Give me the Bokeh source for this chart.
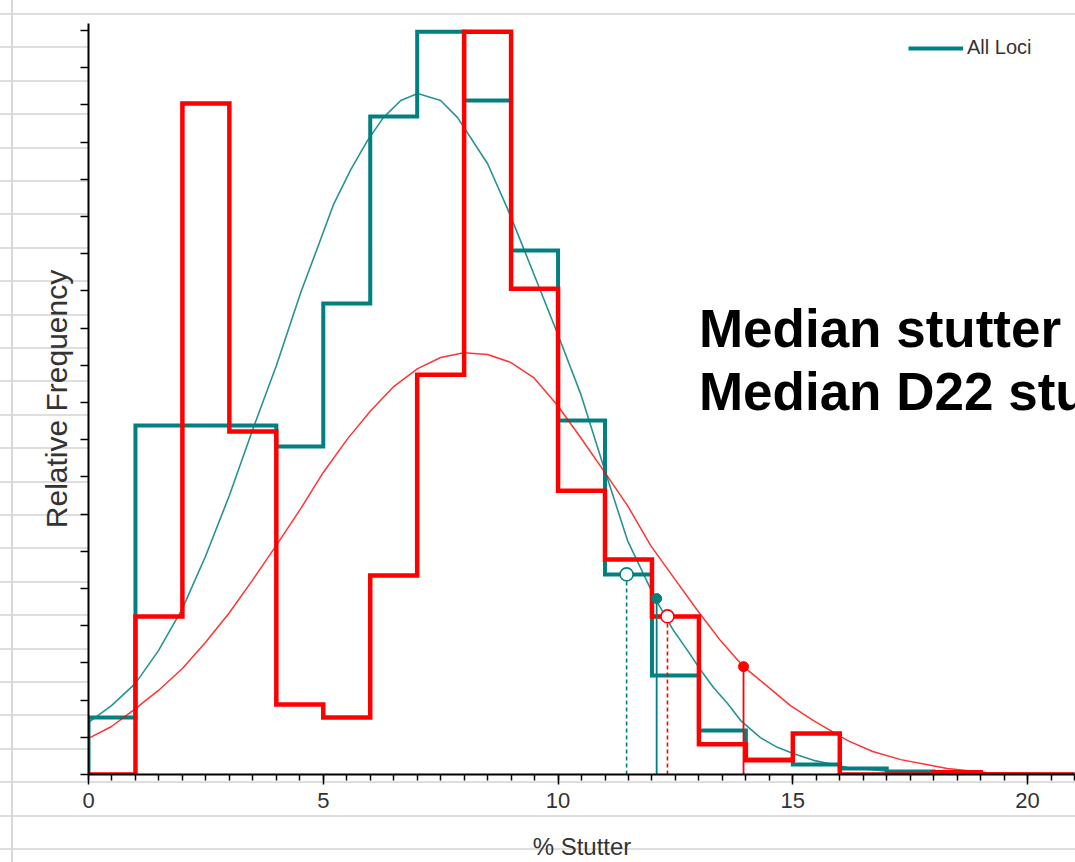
from bokeh.plotting import figure
from bokeh.models import Range1d, FixedTicker, Legend, LegendItem, Label
from bokeh.embed import file_html
from bokeh.resources import INLINE

# ---------------- data ----------------
bin_edges = list(range(0, 22))  # 0..21 (% stutter bins of width 1)
all_loci_freq = [1.53, 9.38, 9.38, 9.38, 8.82, 12.66, 17.69, 19.97, 18.12, 14.09,
                 9.52, 5.38, 2.66, 1.18, 0.40, 0.27, 0.16, 0.08, 0.0, 0.0, 0.0]
d22_freq = [0.0, 4.25, 18.04, 9.22, 1.88, 1.53, 5.35, 10.75, 19.97, 13.06,
            7.63, 5.78, 4.25, 0.81, 0.38, 1.10, 0.0, 0.0, 0.06, 0.0, 0.0]

all_loci_fit_x = [0.0, 0.49, 1.0, 1.49, 2.0, 2.49, 3.0, 3.49, 4.0, 4.52, 4.88, 5.22,
                  5.58, 5.94, 6.28, 6.65, 7.01, 7.5, 7.86, 8.5, 8.92, 9.14, 9.48, 9.99,
                  10.48, 10.97, 11.48, 12.07, 12.46, 12.76, 13.04, 13.31, 13.61, 13.89,
                  14.31, 14.67, 15.02, 15.44, 16.17, 17.08, 18.36, 21.0]
all_loci_fit_y = [1.40, 1.85, 2.45, 3.33, 4.46, 5.86, 7.50, 9.25, 10.99, 12.96, 14.17, 15.33,
                  16.25, 17.04, 17.66, 18.12, 18.31, 18.12, 17.66, 16.42, 15.22, 14.54, 13.47, 11.85,
                  10.24, 8.28, 6.29, 4.73, 3.87, 3.33, 2.80, 2.34, 1.91, 1.45,
                  0.99, 0.73, 0.56, 0.38, 0.19, 0.08, 0.03, 0.0]

d22_fit_x = [0.0, 0.49, 1.0, 1.49, 2.0, 2.49, 3.0, 3.49, 4.0, 4.52, 5.0, 5.52, 6.01, 6.5,
             7.01, 7.5, 7.99, 8.5, 8.99, 9.48, 9.99, 10.48, 10.97, 11.48, 11.97, 12.46,
             12.97, 13.46, 13.95, 14.46, 14.95, 15.44, 16.17, 16.7, 17.3, 18.29, 19.15, 20.0, 21.0]
d22_fit_y = [0.97, 1.29, 1.77, 2.26, 2.85, 3.55, 4.35, 5.22, 6.16, 7.15, 8.12, 9.03, 9.78, 10.43,
             10.91, 11.21, 11.34, 11.29, 11.08, 10.67, 9.92, 9.06, 8.17, 7.23, 6.16, 5.30,
             4.41, 3.60, 2.90, 2.37, 1.85, 1.45, 0.91, 0.62, 0.40, 0.16, 0.05, 0.03, 0.0]

# median markers: (x, y)
all_loci_hist_median = (11.46, 5.38)   # open circle, dashed drop line
all_loci_fit_median = (12.10, 4.73)    # filled dot, solid drop line
d22_hist_median = (12.33, 4.25)        # open circle, dashed drop line
d22_fit_median = (13.95, 2.90)         # filled dot, solid drop line

x_ticks = [0, 5, 10, 15, 20]
x_minor = [i * 0.5 for i in range(0, 43)]
y_ticks = list(range(0, 21))

legend_label = "All Loci"
x_title = "% Stutter"
y_title = "Relative Frequency"
note_lines = ["Median stutter", "Median D22 stutter"]

TEAL = "#008080"
RED = "#ff0000"

# ---------------- figure ----------------
p = figure(width=1075, height=862, output_backend="svg", toolbar_location=None,
           x_range=Range1d(0, 21.02), y_range=Range1d(0, 20.19),
           min_border_left=88, min_border_right=0, min_border_top=23, min_border_bottom=88)
p.border_fill_color = None
p.background_fill_color = "white"
p.outline_line_color = None
p.grid.visible = False
p.styles = {
    "background-image": (
        "linear-gradient(to right, transparent 11px, #d8d8d8 11px, #d8d8d8 13px, transparent 13px), "
        "repeating-linear-gradient(to bottom, transparent 0px, transparent 13px, #dedede 13px, "
        "#dedede 15px, transparent 15px, transparent 33.4px)"
    ),
}


def step_xy(edges, vals):
    xs = [edges[0]]
    ys = [0.0]
    for i, v in enumerate(vals):
        xs += [edges[i], edges[i + 1]]
        ys += [v, v]
    xs.append(edges[-1])
    ys.append(0.0)
    return xs, ys


tx, ty = step_xy(bin_edges, all_loci_freq)
rx, ry = step_xy(bin_edges, d22_freq)

teal_hist = p.line(tx, ty, line_color=TEAL, line_width=4, line_join="miter")
p.line(all_loci_fit_x, all_loci_fit_y, line_color=TEAL, line_width=1.6, line_alpha=0.85)
p.line(rx, ry, line_color=RED, line_width=4.5, line_join="miter")
p.line(d22_fit_x, d22_fit_y, line_color=RED, line_width=1.5, line_alpha=0.8)

# drop lines
p.segment(x0=[all_loci_hist_median[0]], y0=[0], x1=[all_loci_hist_median[0]],
          y1=[all_loci_hist_median[1]], line_color=TEAL, line_width=1.6, line_dash="4 3")
p.segment(x0=[all_loci_fit_median[0]], y0=[0], x1=[all_loci_fit_median[0]],
          y1=[all_loci_fit_median[1]], line_color=TEAL, line_width=1.8)
p.segment(x0=[d22_hist_median[0]], y0=[0], x1=[d22_hist_median[0]],
          y1=[d22_hist_median[1]], line_color=RED, line_width=1.6, line_dash="4 3")
p.segment(x0=[d22_fit_median[0]], y0=[0], x1=[d22_fit_median[0]],
          y1=[d22_fit_median[1]], line_color=RED, line_width=1.8)

p.scatter([all_loci_hist_median[0]], [all_loci_hist_median[1]], size=13,
          fill_color="white", line_color=TEAL, line_width=1.6)
p.scatter([all_loci_fit_median[0]], [all_loci_fit_median[1]], size=10,
          fill_color=TEAL, line_color=TEAL)
p.scatter([d22_hist_median[0]], [d22_hist_median[1]], size=13,
          fill_color="white", line_color=RED, line_width=1.6)
p.scatter([d22_fit_median[0]], [d22_fit_median[1]], size=10,
          fill_color=RED, line_color=RED)

# ---------------- axes ----------------
xa = p.xaxis[0]
xa.ticker = FixedTicker(ticks=x_ticks, minor_ticks=x_minor)
xa.axis_line_width = 2
xa.axis_line_color = "black"
xa.major_tick_out = 10
xa.major_tick_in = 0
xa.minor_tick_out = 6
xa.minor_tick_in = 0
xa.major_tick_line_width = 1.5
xa.minor_tick_line_width = 1.5
xa.major_label_text_font = "Liberation Sans"
xa.major_label_text_font_size = "22px"
xa.major_label_text_color = "#333333"
xa.major_label_standoff = 8
xa.axis_label = x_title
xa.axis_label_text_font = "Liberation Sans"
xa.axis_label_text_font_size = "24px"
xa.axis_label_text_font_style = "normal"
xa.axis_label_text_color = "#333333"
xa.axis_label_standoff = 22

ya = p.yaxis[0]
# unlabeled ticks: drawn as minor ticks so no tick labels are produced
ya.ticker = FixedTicker(ticks=[], minor_ticks=y_ticks)
ya.axis_line_width = 2
ya.axis_line_color = "black"
ya.major_tick_out = 0
ya.minor_tick_out = 8
ya.minor_tick_in = 0
ya.minor_tick_line_width = 1.5
ya.minor_tick_line_color = "black"
ya.major_label_standoff = 0
ya.axis_label = y_title
ya.axis_label_text_font = "Liberation Sans"
ya.axis_label_text_font_size = "30px"
ya.axis_label_text_font_style = "normal"
ya.axis_label_text_color = "#333333"
ya.axis_label_standoff = 8

# ---------------- legend ----------------
legend = Legend(items=[LegendItem(label=legend_label, renderers=[teal_hist])],
                location=(820, 715), orientation="vertical",
                background_fill_alpha=0, border_line_color=None,
                margin=0, padding=0, spacing=0,
                glyph_width=55, glyph_height=20, label_height=20, label_standoff=4,
                label_text_font="Liberation Sans", label_text_font_size="20px",
                label_text_color="#333333")
p.add_layout(legend)

# ---------------- annotation text ----------------
note_y = [11.99, 10.30]
for txt, yy in zip(note_lines, note_y):
    p.add_layout(Label(x=13.0, y=yy, text=txt, text_font="Liberation Sans",
                       text_font_size="53px", text_font_style="bold",
                       text_color="black", text_baseline="alphabetic"))

open("out.html", "w").write(file_html(p, INLINE))
